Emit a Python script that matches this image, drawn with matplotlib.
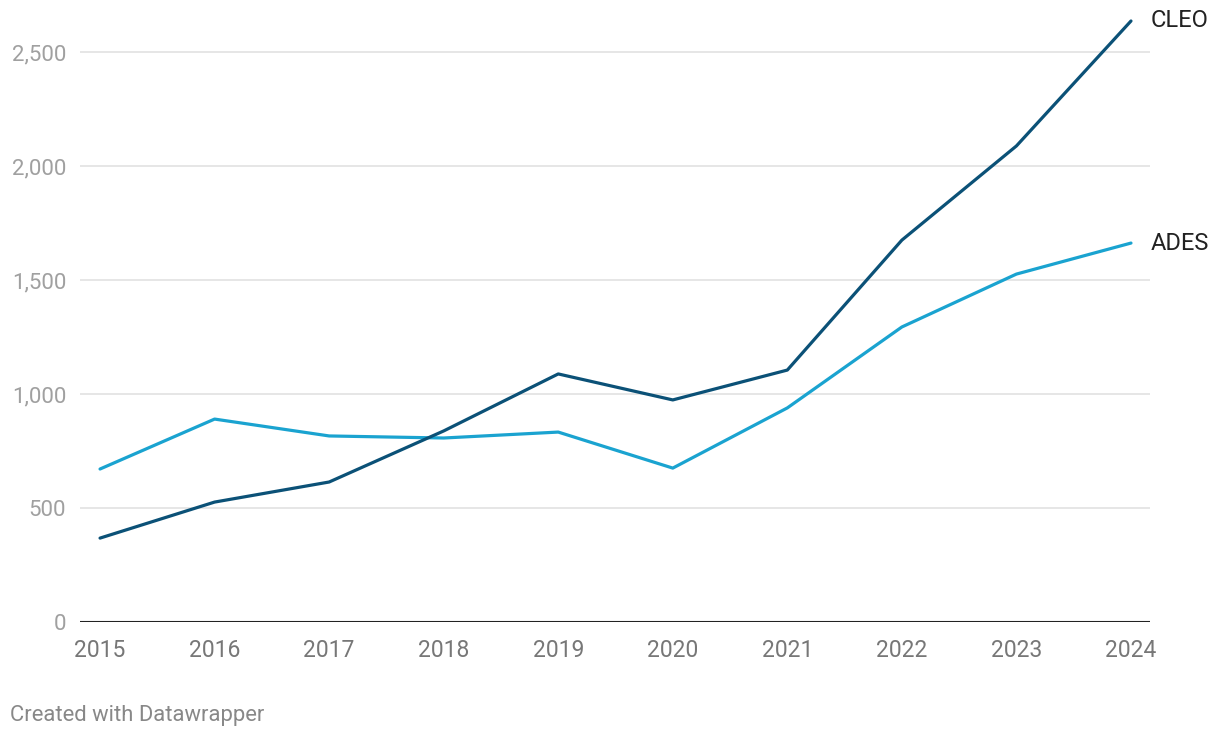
import matplotlib
matplotlib.use('Agg')
import matplotlib.pyplot as plt

plt.rcParams['font.family'] = ['Roboto', 'DejaVu Sans']

# Data %%
years = [2015, 2016, 2017, 2018, 2019, 2020, 2021, 2022, 2023, 2024]
cleo = [368, 526, 614, 838, 1088, 974, 1105, 1675, 2088, 2636]
ades = [671, 890, 816, 807, 833, 675, 939, 1294, 1526, 1662]
y_ticks = [0, 500, 1000, 1500, 2000, 2500]

cleo_color = '#0b5177'
ades_color = '#1aa3d0'

fig = plt.figure(figsize=(12.2, 7.38), dpi=100)
ax = fig.add_axes([80/1220, 116/738, 1070/1220, 615.6/738])

ax.set_xlim(2014.825, 2024.166)
ax.set_ylim(0, 2700)

ax.plot(years, ades, color=ades_color, lw=2.3, solid_capstyle='round', zorder=3)
ax.plot(years, cleo, color=cleo_color, lw=2.3, solid_capstyle='round', zorder=4)

# Grid lines %%
for t in y_ticks[1:]:
    ax.axhline(t, color='#e2e2e2', lw=1.2, zorder=1)
ax.axhline(0, color='#222222', lw=1.5, zorder=2)

for s in ax.spines.values():
    s.set_visible(False)

ax.set_yticks(y_ticks)
ax.set_yticklabels([f'{t:,}' for t in y_ticks])
ax.set_xticks(years)
ax.set_xticklabels([str(y) for y in years])
ax.tick_params(axis='y', length=0, pad=10, labelsize=16, labelcolor='#a0a0a0')
ax.tick_params(axis='x', length=0, pad=12, labelsize=16.5, labelcolor='#777777')

# Line labels %%
ax.text(2024.175, cleo[-1], 'CLEO', fontsize=17, color='#222222', va='center', ha='left', clip_on=False)
ax.text(2024.175, ades[-1], 'ADES', fontsize=17, color='#222222', va='center', ha='left', clip_on=False)

fig.text(10/1220, 1 - 715/738, 'Created with Datawrapper', fontsize=15.8, color='#888888', va='center', ha='left')

fig.savefig('out.png', dpi=100)
